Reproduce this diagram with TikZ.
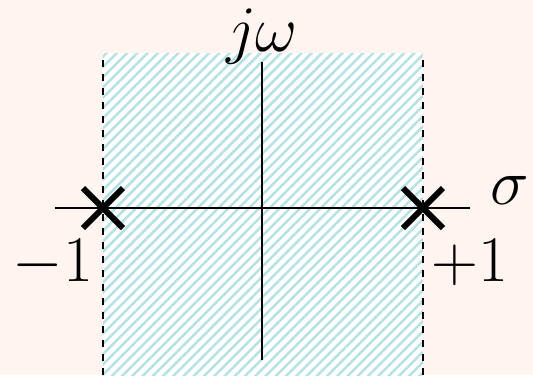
\RequirePackage{fix-cm}
\documentclass[tikz,border=0pt]{standalone}
\usetikzlibrary{patterns.meta,shapes.misc}
\definecolor{pagebg}{HTML}{FFF4EF}
\definecolor{stripe}{HTML}{B6E2E6}

\begin{document}
\begin{tikzpicture}[x=0.2mm,y=0.2mm,
  lbl/.style={font=\fontsize{37}{44}\selectfont,inner sep=0pt},
  pole/.style={draw,cross out,line width=1.2mm,minimum size=6.8mm,inner sep=0pt},
  edge/.style={line width=0.45mm,dash pattern=on 1.4mm off 1.4mm}]
  % page and strip
  \fill[pagebg] (-262,-167) rectangle (271,208);
  \useasboundingbox (-262,-167) rectangle (271,208);
  \fill[white] (-159,-167) rectangle (161,155);
  \fill[pattern={Lines[angle=45,distance=1.45mm,line width=0.5mm]},pattern color=stripe]
    (-159,-167) rectangle (161,155);
  \draw[edge] (-159,-167) -- (-159,155);
  \draw[edge] (161,-167) -- (161,155);
  % axes
  \coordinate (xl) at (-207,0);
  \coordinate (xr) at (208,0);
  \coordinate (yb) at (0,-152);
  \coordinate (yt) at (0,146);
  \draw[line width=0.45mm] (xl) -- (xr);
  \draw[line width=0.45mm] (yb) -- (yt);
  % poles
  \node[pole] (m1) at (-159,0) {};
  \node[pole] (p1) at (161,0) {};
  \node[lbl] (jw) at (0,171) {$j\omega$};
  \node[lbl] (sig) at (248,18) {$\sigma$};
  \node[lbl] (m1l) at (-209,-55) {$-1$};
  \node[lbl] (p1l) at (208,-55) {$+1$};
\end{tikzpicture}
\end{document}
